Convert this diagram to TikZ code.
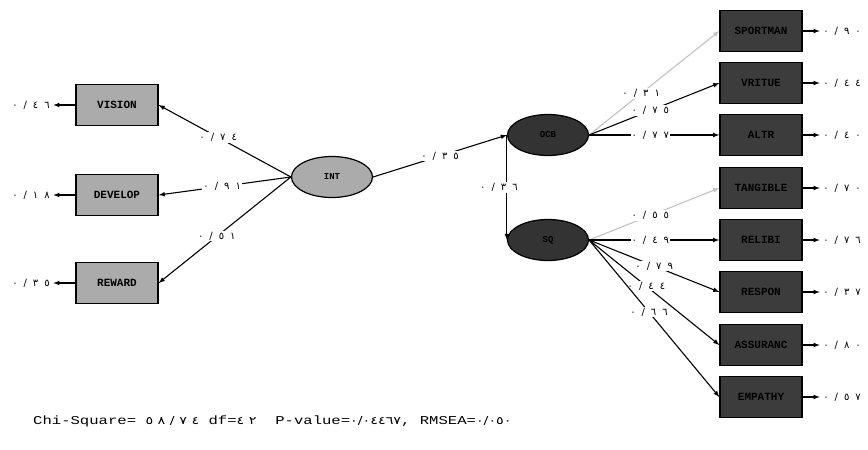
\documentclass[tikz,border=0pt]{standalone}
\usepackage{fontspec}
\usepackage{tikz}
\usetikzlibrary{shapes}
\usetikzlibrary{arrows}

\newfontfamily\numfont{DejaVu Sans}
\newfontfamily\boxfont{Liberation Mono}

\definecolor{lightbox}{HTML}{ABABAB}
\definecolor{darkbox}{HTML}{3C3C3C}
\definecolor{darkvar}{HTML}{333333}
\definecolor{faintpath}{HTML}{C2C2C2}

\newcommand{\val}[1]{{\numfont\fontsize{10}{11}\selectfont\spaceskip=6pt\relax #1}}
\newcommand{\dig}[1]{{\numfont\fontsize{11}{12}\selectfont #1}}

\tikzset{
	obsleft/.style={rectangle, draw, line width=1.4pt, fill=lightbox, minimum width=82pt, minimum height=41pt, font=\boxfont\bfseries\fontsize{11}{12}\selectfont},
	obsright/.style={obsleft, fill=darkbox},
	latlight/.style={ellipse, draw, line width=1.2pt, fill=lightbox, minimum width=81pt, minimum height=41pt, inner sep=0pt, font=\boxfont\bfseries\fontsize{9}{10}\selectfont},
	latdark/.style={latlight, fill=darkvar},
	load/.style={line width=1.1pt, ->, >=latex},
	faint/.style={load, draw=faintpath},
	coef/.style={fill=white, inner sep=1pt}
}

\begin{document}
\begin{tikzpicture}[x=1pt, y=-1pt]
	\useasboundingbox (0,0) rectangle (868,450);

	% exogenous side
	\node[latlight] (INT) at (332,177) {INT};
	\node[obsleft] (VIS) at (117,105) {VISION};
	\node[obsleft] (DEV) at (117,195) {DEVELOP};
	\node[obsleft] (REW) at (117,283) {REWARD};
	\node (eVIS) at (31,105) {\val{٠ / ٤ ٦}};
	\node (eDEV) at (31,195) {\val{٠ / ١ ٨}};
	\node (eREW) at (31,283) {\val{٠ / ٣ ٥}};

	% endogenous side
	\node[latdark] (OCB) at (548,135) {OCB};
	\node[latdark] (SQ) at (548,240) {SQ};
	\node[obsright] (SPO) at (761,31) {SPORTMAN};
	\node[obsright] (VRI) at (761,83) {VRITUE};
	\node[obsright] (ALT) at (761,135) {ALTR};
	\node[obsright] (TAN) at (761,188) {TANGIBLE};
	\node[obsright] (REL) at (761,240) {RELIBI};
	\node[obsright] (RES) at (761,292) {RESPON};
	\node[obsright] (ASS) at (761,345) {ASSURANC};
	\node[obsright] (EMP) at (761,397) {EMPATHY};
	\node (eSPO) at (842,31) {\val{٠ / ٩ ٠}};
	\node (eVRI) at (842,83) {\val{٠ / ٤ ٤}};
	\node (eALT) at (842,135) {\val{٠ / ٤ ٠}};
	\node (eTAN) at (842,188) {\val{٠ / ٧ ٠}};
	\node (eREL) at (842,240) {\val{٠ / ٧ ٦}};
	\node (eRES) at (842,292) {\val{٠ / ٣ ٧}};
	\node (eASS) at (842,345) {\val{٠ / ٨ ٠}};
	\node (eEMP) at (842,397) {\val{٠ / ٥ ٧}};

	% loadings of INT
	\draw[load] (INT.west) -- (VIS.east) node[coef, pos=0.55] () {\val{٠ / ٧ ٤}};
	\draw[load] (INT.west) -- (DEV.east) node[coef, pos=0.52] () {\val{٠ / ٩ ١}};
	\draw[load] (INT.west) -- (REW.east) node[coef, pos=0.56] () {\val{٠ / ٥ ١}};

	% structural paths
	\draw[load] (INT.east) -- (OCB.west) node[coef, midway] () {\val{٠ / ٣ ٥}};
	\draw[load] (OCB.west) -- (SQ.west) node[coef, midway, xshift=-8pt] () {\val{٠ / ٣ ٦}};

	% loadings of OCB
	\draw[faint] (OCB.east) -- (SPO.west) node[coef, pos=0.4] () {\val{٠ / ٣ ١}};
	\draw[load] (OCB.east) -- (VRI.west) node[coef, pos=0.47] () {\val{٠ / ٧ ٥}};
	\draw[load] (OCB.east) -- (ALT.west) node[coef, pos=0.47] () {\val{٠ / ٧ ٧}};

	% loadings of SQ
	\draw[faint] (SQ.east) -- (TAN.west) node[coef, pos=0.47] () {\val{٠ / ٥ ٥}};
	\draw[load] (SQ.east) -- (REL.west) node[coef, pos=0.47] () {\val{٠ / ٤ ٩}};
	\draw[load] (SQ.east) -- (RES.west) node[coef, pos=0.5] () {\val{٠ / ٧ ٩}};
	\draw[load] (SQ.east) -- (ASS.west) node[coef, pos=0.44] () {\val{٠ / ٤ ٤}};
	\draw[load] (SQ.east) -- (EMP.west) node[coef, pos=0.46] () {\val{٠ / ٦ ٦}};

	% error variances
	\foreach \v in {VIS, DEV, REW, SPO, VRI, ALT, TAN, REL, RES, ASS, EMP}
		\draw[load] (\v) -- (e\v);

	% fit statistics
	\node[anchor=west, inner sep=0pt, font=\boxfont\fontsize{12}{13}\selectfont] (FIT) at (33,421)
		{\scalebox{1.3}[1]{Chi-Square= \dig{٥ ٨ / ٧ ٤} df=\dig{٤ ٢}\ \ P-value=\dig{٠/٠٤٤٦٧}, RMSEA=\dig{٠/٠٥٠}}};
\end{tikzpicture}
\end{document}
